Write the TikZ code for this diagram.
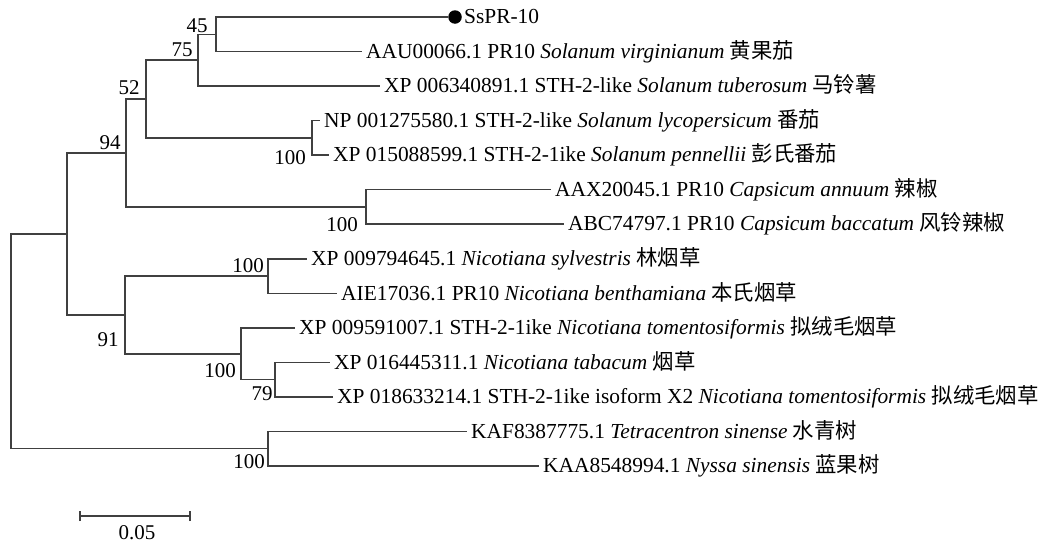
\documentclass[tikz,border=0pt]{standalone}
\usepackage{fontspec}
\setmainfont{Liberation Serif}
\newfontfamily\cjk{Noto Sans CJK SC}
\begin{document}
\begin{tikzpicture}[x=1pt,y=-1pt,
  br/.style={line width=1.5pt, draw=black!75},
  leaf/.style={anchor=west, inner xsep=4pt, inner ysep=0pt, text height=13.5pt, text depth=0pt, font=\fontsize{21.4}{25}\selectfont, text=black},
  bs/.style={inner sep=0pt, font=\fontsize{21}{25}\selectfont, text=black},
  tipdot/.style={circle, fill=black, inner sep=0pt, minimum size=13.5pt}]
\useasboundingbox (0,0) rectangle (1042,544);
% internal nodes
\coordinate (root) at (11,341.4);
\coordinate (nA) at (67,234);
\coordinate (n94) at (126,153);
\coordinate (n52) at (146,99);
\coordinate (n75) at (198,60.2);
\coordinate (n45) at (216,34.3);
\coordinate (nLyc) at (312,137.9);
\coordinate (nCap) at (366,207);
\coordinate (n91) at (125,314.9);
\coordinate (nNic) at (268,276);
\coordinate (nTom) at (241,353.8);
\coordinate (n79) at (275,379.7);
\coordinate (nOut) at (268,448.7);
% leaves
\node[tipdot] (dot) at (455,17) {};
\node[leaf, inner xsep=2pt] (l1) at (dot.east) {SsPR-10};
\node[leaf] (l2) at (362,51.5) {AAU00066.1 PR10 \textit{Solanum virginianum} {\cjk 黄果茄}};
\node[leaf] (l3) at (380,86.1) {XP 006340891.1 STH-2-like \textit{Solanum tuberosum} {\cjk 马铃薯}};
\node[leaf] (l4) at (320,120.6) {NP 001275580.1 STH-2-like \textit{Solanum lycopersicum} {\cjk 番茄}};
\node[leaf] (l5) at (329,155.2) {XP 015088599.1 STH-2-1ike \textit{Solanum pennellii} {\cjk 彭氏番茄}};
\node[leaf] (l6) at (551,189.7) {AAX20045.1 PR10 \textit{Capsicum annuum} {\cjk 辣椒}};
\node[leaf] (l7) at (564,224.2) {ABC74797.1 PR10 \textit{Capsicum baccatum} {\cjk 风铃辣椒}};
\node[leaf] (l8) at (307,258.8) {XP 009794645.1 \textit{Nicotiana sylvestris} {\cjk 林烟草}};
\node[leaf] (l9) at (337,293.3) {AIE17036.1 PR10 \textit{Nicotiana benthamiana} {\cjk 本氏烟草}};
\node[leaf] (l10) at (295,327.9) {XP 009591007.1 STH-2-1ike \textit{Nicotiana tomentosiformis} {\cjk 拟绒毛烟草}};
\node[leaf] (l11) at (330,362.4) {XP 016445311.1 \textit{Nicotiana tabacum} {\cjk 烟草}};
\node[leaf] (l12) at (333,396.9) {XP 018633214.1 STH-2-1ike isoform X2 \textit{Nicotiana tomentosiformis} {\cjk 拟绒毛烟草}};
\node[leaf] (l13) at (467,431.5) {KAF8387775.1 \textit{Tetracentron sinense} {\cjk 水青树}};
\node[leaf] (l14) at (539,466) {KAA8548994.1 \textit{Nyssa sinensis} {\cjk 蓝果树}};
% branches
\draw[br] (root) |- (nA);
\draw[br] (root) |- (nOut);
\draw[br] (nA) |- (n94);
\draw[br] (nA) |- (n91);
\draw[br] (n94) |- (n52);
\draw[br] (n94) |- (nCap);
\draw[br] (n52) |- (n75);
\draw[br] (n52) |- (nLyc);
\draw[br] (n75) |- (n45);
\draw[br] (n75) |- (l3.west);
\draw[br] (n45) |- (dot.west);
\draw[br] (n45) |- (l2.west);
\draw[br] (nLyc) |- (l4.west);
\draw[br] (nLyc) |- (l5.west);
\draw[br] (nCap) |- (l6.west);
\draw[br] (nCap) |- (l7.west);
\draw[br] (n91) |- (nNic);
\draw[br] (n91) |- (nTom);
\draw[br] (nNic) |- (l8.west);
\draw[br] (nNic) |- (l9.west);
\draw[br] (nTom) |- (l10.west);
\draw[br] (nTom) |- (n79);
\draw[br] (n79) |- (l11.west);
\draw[br] (n79) |- (l12.west);
\draw[br] (nOut) |- (l13.west);
\draw[br] (nOut) |- (l14.west);
% bootstrap values
\node[bs] (b45) at (197,26) {45};
\node[bs] (b75) at (182,50) {75};
\node[bs] (b52) at (129,88) {52};
\node[bs] (b94) at (110,143) {94};
\node[bs] (bLyc) at (290,158) {100};
\node[bs] (bCap) at (342,225) {100};
\node[bs] (bNic) at (248,266) {100};
\node[bs] (b91) at (108,340) {91};
\node[bs] (bTom) at (220,371) {100};
\node[bs] (b79) at (262,394) {79};
\node[bs] (bOut) at (249,462) {100};
% scale bar
\coordinate (sL) at (80,516);
\coordinate (sR) at (190,516);
\draw[br] (sL) -- (sR);
\draw[br] ([yshift=-5pt]sL) -- ([yshift=5pt]sL);
\draw[br] ([yshift=-5pt]sR) -- ([yshift=5pt]sR);
\node[bs] (sLab) at (137,533) {0.05};
\end{tikzpicture}
\end{document}
